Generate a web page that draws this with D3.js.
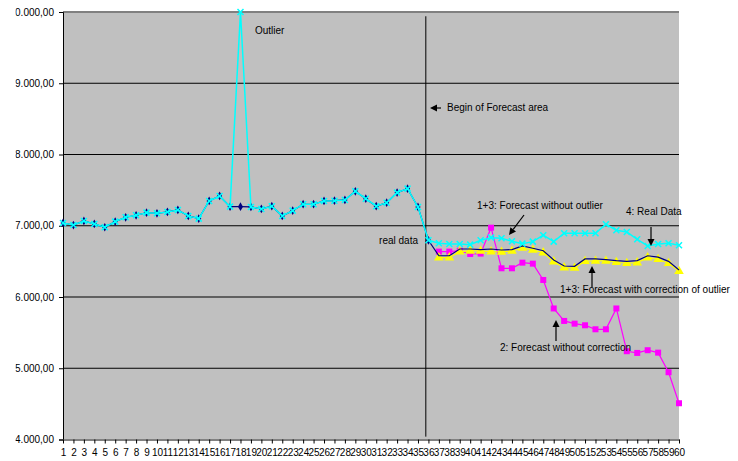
<!DOCTYPE html>
<html>
<head>
<meta charset="utf-8">
<script src="https://cdn.jsdelivr.net/npm/d3@7"></script>
<style>
  html, body { margin: 0; padding: 0; background: #fff; }
  svg { display: block; font-family: "Liberation Sans", Arial, sans-serif; }
</style>
</head>
<body>
<svg id="chart" width="738" height="461"></svg>
<script>
// Periods 1..60
const periods = d3.range(1, 61);

// 4: Real Data (incl. the outlier in period 18)
const realData = [
  7039, 7010, 7067, 7025, 6979, 7058, 7119, 7147, 7184, 7175,
  7194, 7222, 7138, 7100, 7348, 7418, 7268, 10000, 7264, 7236,
  7274, 7138, 7212, 7302, 7302, 7348, 7352, 7362, 7484, 7380,
  7274, 7324, 7465, 7521, 7264, 6796, 6754, 6745, 6745, 6735,
  6796, 6833, 6825, 6782, 6749, 6777, 6867, 6777, 6895, 6895,
  6895, 6895, 7021, 6937, 6913, 6810, 6716, 6745, 6754, 6726
];

// 1: real data with the outlier corrected (periods 1..36)
const correctedData = [
  7039, 7010, 7067, 7025, 6979, 7058, 7119, 7147, 7184, 7175,
  7194, 7222, 7138, 7100, 7348, 7418, 7268, 7268, 7264, 7236,
  7274, 7138, 7212, 7302, 7302, 7348, 7352, 7362, 7484, 7380,
  7274, 7324, 7465, 7521, 7264, 6796
];

// 1+3: Forecast without outlier (periods 37..60)
const forecastNoOutlier = [
  6579, 6579, 6674, 6674, 6665, 6674, 6660, 6665, 6716, 6684,
  6650, 6520, 6435, 6430, 6534, 6534, 6525, 6510, 6500, 6510,
  6579, 6560, 6500, 6380
];

// 1+3: Forecast with correction of outlier (periods 37..60)
const forecastCorrected = [
  6552, 6552, 6637, 6646, 6646, 6637, 6632, 6646, 6688, 6660,
  6623, 6496, 6412, 6408, 6502, 6506, 6506, 6488, 6474, 6482,
  6552, 6530, 6474, 6361
];

// 2: Forecast without correction (periods 37..60)
const forecastUncorrected = [
  6637, 6637, 6650, 6604, 6609, 6973, 6403, 6403, 6482, 6468,
  6239, 5839, 5664, 5626, 5603, 5547, 5547, 5839, 5239, 5215,
  5253, 5219, 4944, 4509
];

const yTicks = [4000, 5000, 6000, 7000, 8000, 9000, 10000];
const forecastStart = 35.75;   // position of the "Begin of Forecast area" divider

const W = 738, H = 461;
const m = { left: 63, right: 59, top: 12, bottom: 21.5 };
const svg = d3.select("#chart");
const FONT = "'Liberation Sans', Arial, sans-serif";

const x = d3.scaleLinear().domain([1, 60]).range([m.left, W - m.right]);
const y = d3.scaleLinear().domain([4000, 10000]).range([H - m.bottom, m.top]);

// German number format: 7.000,00
const deLocale = d3.formatLocale({ decimal: ",", thousands: ".", grouping: [3], currency: ["", "€"] });
const fmt = deLocale.format(",.2f");

// plot background
svg.append("rect")
  .attr("x", x(1)).attr("y", y(10000))
  .attr("width", x(60) - x(1)).attr("height", y(4000) - y(10000))
  .attr("fill", "#c0c0c0");

// horizontal gridlines
svg.append("g").selectAll("line")
  .data(yTicks.filter(d => d > 4000 && d < 10000))
  .join("line")
  .attr("x1", x(1)).attr("x2", x(60))
  .attr("y1", d => y(d)).attr("y2", d => y(d))
  .attr("stroke", "#000").attr("stroke-width", 1);

// top border
svg.append("line")
  .attr("x1", x(1)).attr("x2", x(60))
  .attr("y1", y(10000)).attr("y2", y(10000))
  .attr("stroke", "#808080").attr("stroke-width", 2);

// y axis; the labels are cut at the left edge of the page area
svg.append("clipPath").attr("id", "yclip")
  .append("rect").attr("x", 15.5 - m.left).attr("y", -20).attr("width", W).attr("height", H + 40);

const yAxis = svg.append("g")
  .attr("transform", `translate(${m.left},0)`)
  .attr("clip-path", "url(#yclip)")
  .call(d3.axisLeft(y).tickValues(yTicks).tickFormat(fmt).tickSize(4).tickPadding(5));
yAxis.select(".domain").attr("stroke", "#000");
yAxis.selectAll(".tick line").attr("stroke", "#000");
yAxis.selectAll("text").attr("font-size", 10).attr("fill", "#000").attr("font-family", FONT);

// x axis
const xAxis = svg.append("g")
  .attr("transform", `translate(0,${y(4000)})`)
  .call(d3.axisBottom(x).tickValues(periods).tickFormat(d3.format("d")).tickSize(4).tickSizeOuter(0).tickPadding(5));
xAxis.select(".domain").attr("stroke", "#808080").attr("stroke-width", 2);
xAxis.selectAll(".tick line").attr("stroke", "#000");
xAxis.selectAll("text").attr("font-size", 10).attr("fill", "#000").attr("font-family", FONT);

// divider: begin of forecast area
svg.append("line")
  .attr("x1", x(forecastStart)).attr("x2", x(forecastStart))
  .attr("y1", y(9940)).attr("y2", y(4040))
  .attr("stroke", "#000").attr("stroke-width", 1);

const line = d3.line().x(d => x(d.p)).y(d => y(d.v));
const toPts = (vals, start) => vals.map((v, i) => ({ p: start + i, v }));

const realPts = toPts(realData, 1);
const corrPts = toPts(correctedData, 1);
const fNoOutPts = toPts(forecastNoOutlier, 37);
const fCorrPts = toPts(forecastCorrected, 37);
const fUncPts = toPts(forecastUncorrected, 37);

// 2: forecast without correction (magenta squares)
svg.append("path").attr("d", line(fUncPts))
  .attr("fill", "none").attr("stroke", "#ff00ff").attr("stroke-width", 1.2);
svg.append("g").selectAll("rect").data(fUncPts).join("rect")
  .attr("x", d => x(d.p) - 3).attr("y", d => y(d.v) - 3)
  .attr("width", 6).attr("height", 6).attr("fill", "#ff00ff");

// 1+3: forecast with correction of outlier (yellow triangles)
svg.append("path").attr("d", line(fCorrPts))
  .attr("fill", "none").attr("stroke", "#ffff00").attr("stroke-width", 1.2);
svg.append("g").selectAll("path").data(fCorrPts).join("path")
  .attr("d", d3.symbol(d3.symbolTriangle, 40))
  .attr("transform", d => `translate(${x(d.p)},${y(d.v)})`)
  .attr("fill", "#ffff00");

// 1: corrected real data followed by the forecast without outlier (navy)
svg.append("path").attr("d", line(corrPts.concat(fNoOutPts)))
  .attr("fill", "none").attr("stroke", "#000080").attr("stroke-width", 1.2);
svg.append("g").selectAll("path").data(corrPts).join("path")
  .attr("d", d3.symbol(d3.symbolDiamond, 22))
  .attr("transform", d => `translate(${x(d.p)},${y(d.v)})`)
  .attr("fill", "#000080");

// 4: real data (cyan crosses)
svg.append("path").attr("d", line(realPts))
  .attr("fill", "none").attr("stroke", "#00ffff").attr("stroke-width", 1.5);
svg.append("g").selectAll("path").data(realPts).join("path")
  .attr("d", "M-3,-3L3,3M-3,3L3,-3")
  .attr("transform", d => `translate(${x(d.p)},${y(d.v)})`)
  .attr("stroke", "#00ffff").attr("stroke-width", 1.5).attr("fill", "none");

// annotations
const ann = svg.append("g")
  .attr("font-size", 10).attr("fill", "#000").attr("font-family", FONT);

function arrow(x1, y1, x2, y2) {
  const a = Math.atan2(y2 - y1, x2 - x1);
  const hl = 7, hw = 3.5;
  const bx = x2 - hl * Math.cos(a), by = y2 - hl * Math.sin(a);
  svg.append("line")
    .attr("x1", x1).attr("y1", y1).attr("x2", bx).attr("y2", by)
    .attr("stroke", "#000").attr("stroke-width", 1.2);
  svg.append("path")
    .attr("d", `M${x2},${y2}L${bx + hw * Math.sin(a)},${by - hw * Math.cos(a)}L${bx - hw * Math.sin(a)},${by + hw * Math.cos(a)}Z`)
    .attr("fill", "#000");
}

ann.append("text").attr("x", 255).attr("y", 34).text("Outlier");

ann.append("text").attr("x", 447).attr("y", 111).text("Begin of Forecast area");
arrow(441, 108, 430, 108);

ann.append("text").attr("x", 418).attr("y", 244).attr("text-anchor", "end").text("real data");

ann.append("text").attr("x", 477).attr("y", 209).text("1+3: Forecast without outlier");
arrow(524, 215, 509, 235);

ann.append("text").attr("x", 626).attr("y", 215).text("4: Real Data");
arrow(651, 227, 651, 246);

ann.append("text").attr("x", 560).attr("y", 293).text("1+3: Forecast with correction of outlier");
arrow(592, 287, 592, 266);

ann.append("text").attr("x", 500).attr("y", 351).text("2: Forecast without correction");
arrow(556, 341, 556, 320);
</script>
</body>
</html>
